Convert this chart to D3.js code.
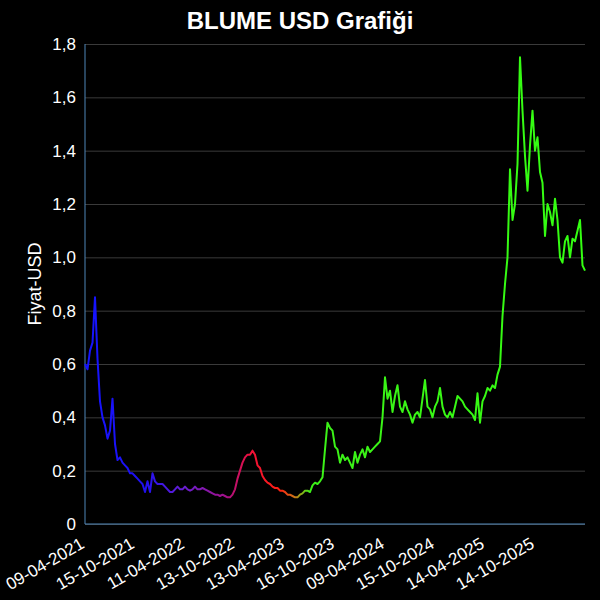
<!DOCTYPE html>
<html>
<head>
<meta charset="utf-8">
<script src="https://cdn.jsdelivr.net/npm/d3@7"></script>
<style>
  body { margin: 0; background: #000; }
  svg { display: block; font-family: "Liberation Sans", Arial, sans-serif; }
</style>
</head>
<body>
<script>
// price readings, evenly spaced along the axis
var prices = [
  0.60, 0.58, 0.65, 0.68, 0.85, 0.62, 0.46, 0.40, 0.37, 0.32,
  0.35, 0.47, 0.30, 0.24, 0.25, 0.23, 0.22, 0.21, 0.19, 0.19,
  0.18, 0.17, 0.16, 0.15, 0.12, 0.16, 0.12, 0.19, 0.16, 0.15,
  0.15, 0.15, 0.14, 0.13, 0.12, 0.12, 0.13, 0.14, 0.13, 0.13,
  0.14, 0.13, 0.125, 0.13, 0.14, 0.13, 0.13, 0.135, 0.13, 0.125,
  0.12, 0.115, 0.11, 0.11, 0.105, 0.11, 0.105, 0.10, 0.10, 0.11,
  0.13, 0.17, 0.20, 0.23, 0.25, 0.26, 0.26, 0.275, 0.26, 0.22,
  0.21, 0.18, 0.165, 0.155, 0.15, 0.14, 0.135, 0.135, 0.125, 0.125,
  0.12, 0.11, 0.11, 0.105, 0.10, 0.10, 0.11, 0.115, 0.125, 0.125,
  0.12, 0.145, 0.155, 0.15, 0.16, 0.175, 0.28, 0.38, 0.36, 0.35,
  0.29, 0.28, 0.23, 0.26, 0.24, 0.25, 0.23, 0.21, 0.27, 0.23,
  0.26, 0.28, 0.25, 0.29, 0.27, 0.28, 0.29, 0.30, 0.31, 0.40,
  0.55, 0.47, 0.50, 0.42, 0.48, 0.52, 0.44, 0.42, 0.46, 0.43,
  0.41, 0.38, 0.41, 0.42, 0.40, 0.47, 0.54, 0.44, 0.43, 0.40,
  0.44, 0.46, 0.51, 0.44, 0.41, 0.40, 0.42, 0.40, 0.44, 0.48,
  0.47, 0.46, 0.44, 0.43, 0.42, 0.41, 0.39, 0.49, 0.38, 0.46,
  0.48, 0.51, 0.50, 0.52, 0.51, 0.56, 0.59, 0.78, 0.90, 1.00,
  1.33, 1.14, 1.20, 1.35, 1.75, 1.55, 1.38, 1.25, 1.42, 1.55,
  1.40, 1.45, 1.32, 1.28, 1.08, 1.20, 1.17, 1.12, 1.22, 1.14,
  1.00, 0.98, 1.06, 1.08, 1.00, 1.07, 1.06, 1.10, 1.14, 0.97,
  0.95
];

// date labels shown every 20 readings
var dateLabels = ["09-04-2021", "15-10-2021", "11-04-2022", "13-10-2022", "13-04-2023",
                  "16-10-2023", "09-04-2024", "15-10-2024", "14-04-2025", "14-10-2025"];
var labelStep = 20;

var yTicks = [0, 0.2, 0.4, 0.6, 0.8, 1.0, 1.2, 1.4, 1.6, 1.8];

// line colour changes along time
var colorStops = [
  {at: 0.00, c: "#1414ff"},
  {at: 0.12, c: "#2010f0"},
  {at: 0.20, c: "#6a1ed0"},
  {at: 0.28, c: "#a0108a"},
  {at: 0.33, c: "#f0103a"},
  {at: 0.39, c: "#ff2010"},
  {at: 0.42, c: "#c87818"},
  {at: 0.45, c: "#3cf018"},
  {at: 1.00, c: "#33ff11"}
];

var W = 600, H = 600;
var margin = {top: 44, right: 15, bottom: 76, left: 85};
var w = W - margin.left - margin.right;
var h = H - margin.top - margin.bottom;

var svg = d3.select("body").append("svg")
  .attr("width", W)
  .attr("height", H)
  .style("background", "#000");

var g = svg.append("g").attr("transform", "translate(" + margin.left + "," + margin.top + ")");

var x = d3.scaleLinear().domain([0, prices.length - 1]).range([0, w]);
var y = d3.scaleLinear().domain([0, 1.8]).range([h, 0]);

var fmt = function(d){ return d === 0 ? "0" : d3.format(".1f")(d).replace(".", ","); };

// grid + y axis
var yAxis = g.append("g")
  .call(d3.axisLeft(y).tickValues(yTicks).tickSize(-w).tickFormat(fmt));
yAxis.select(".domain").remove();
yAxis.selectAll(".tick line").attr("stroke", "#3a3a3a").attr("stroke-width", 1);
yAxis.selectAll(".tick text")
  .attr("fill", "#fff").attr("x", -9)
  .style("font-size", "17px");

// x axis
var xAxis = g.append("g")
  .attr("transform", "translate(0," + h + ")")
  .call(d3.axisBottom(x)
    .tickValues(d3.range(dateLabels.length).map(function(i){ return i * labelStep; }))
    .tickSize(0)
    .tickFormat(function(d){ return dateLabels[d / labelStep]; }));
xAxis.select(".domain").remove();
xAxis.selectAll(".tick text")
  .attr("fill", "#fff")
  .style("font-size", "17px")
  .attr("text-anchor", "end")
  .attr("dy", null)
  .attr("y", 0)
  .attr("transform", "translate(0,23) rotate(-30)");

// axis lines
g.append("line").attr("x1", 0).attr("x2", 0).attr("y1", 0).attr("y2", h)
  .attr("stroke", "#4f86b8").attr("stroke-width", 1);
g.append("line").attr("x1", 0).attr("x2", w).attr("y1", h).attr("y2", h)
  .attr("stroke", "#4f86b8").attr("stroke-width", 1);

// gradient
var grad = svg.append("defs").append("linearGradient")
  .attr("id", "lineGrad")
  .attr("gradientUnits", "userSpaceOnUse")
  .attr("x1", 0).attr("x2", w).attr("y1", 0).attr("y2", 0);
grad.selectAll("stop").data(colorStops).enter().append("stop")
  .attr("offset", function(d){ return d.at; })
  .attr("stop-color", function(d){ return d.c; });

var line = d3.line()
  .x(function(d, i){ return x(i); })
  .y(function(d){ return y(d); });

g.append("path")
  .datum(prices)
  .attr("d", line)
  .attr("fill", "none")
  .attr("stroke", "url(#lineGrad)")
  .attr("stroke-width", 2)
  .attr("stroke-linejoin", "round");

// title
svg.append("text")
  .attr("x", W / 2).attr("y", 29)
  .attr("text-anchor", "middle")
  .attr("fill", "#fff")
  .style("font-size", "24px")
  .style("font-weight", "bold")
  .text("BLUME USD Grafiği");

// y label
svg.append("text")
  .attr("transform", "translate(41," + (margin.top + h / 2) + ") rotate(-90)")
  .attr("text-anchor", "middle")
  .attr("fill", "#fff")
  .style("font-size", "18px")
  .text("Fiyat-USD");
</script>
</body>
</html>
